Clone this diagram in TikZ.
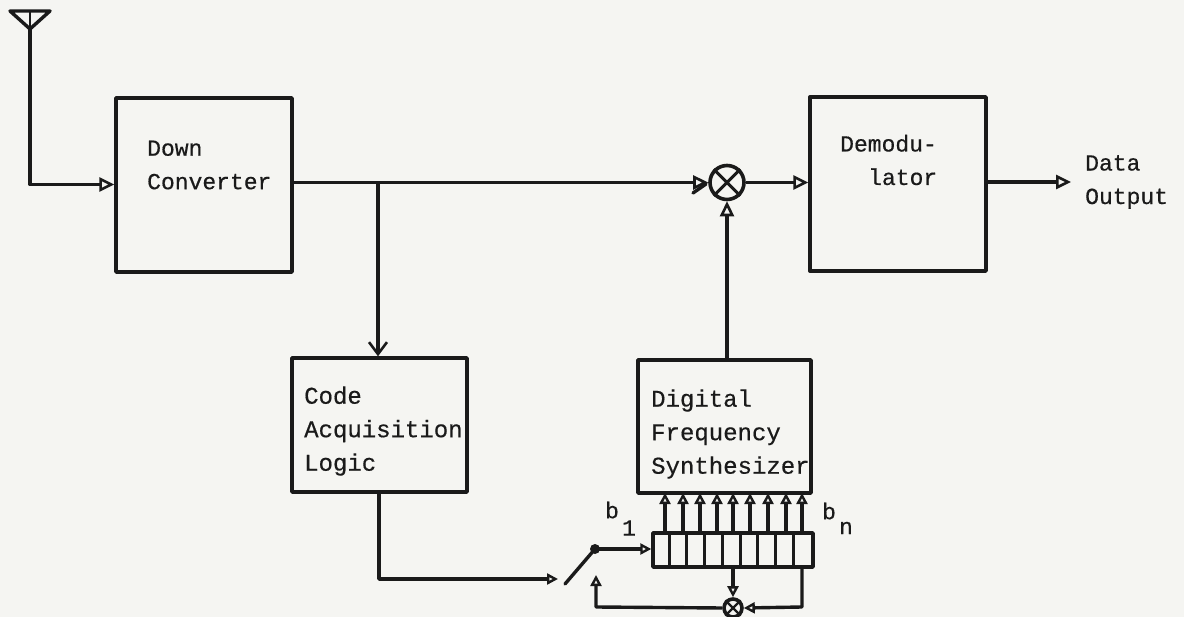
\documentclass[tikz,border=0pt]{standalone}
\usepackage{fontspec}
\setmainfont{Liberation Mono}[FakeBold=0.5]
\usetikzlibrary{arrows.meta}
\definecolor{ink}{HTML}{1A1A1A}
\definecolor{paper}{HTML}{F5F5F2}
\tikzset{
  x=1pt,y=-1pt,
  every path/.style={line join=round},
  wire/.style={draw=ink,line width=3.4pt},
  flow/.style={wire,-{Triangle[open,length=15pt,width=14pt,line width=2.6pt]}},
  small/.style={wire,-{Triangle[open,length=11pt,width=11pt,line width=2.4pt]}},
  blockbox/.style={draw=ink,line width=3.4pt,fill=none,inner sep=0pt},
  lbl/.style={inner sep=0pt,text=ink,font=\fontsize{23}{33.5}\selectfont,align=left,anchor=west},
  lblwide/.style={lbl,font=\fontsize{24}{33.5}\selectfont},
  sub/.style={inner sep=0pt,text=ink,font=\fontsize{23}{24}\selectfont},
  mix/.style={circle,draw=ink,line width=3.6pt,inner sep=0pt},
}
\begin{document}
\begin{tikzpicture}
\useasboundingbox[fill=paper] (0,0) rectangle (1184,617);
% blocks
\node[blockbox,minimum width=176pt,minimum height=174pt] (down) at (204,185) {};
\node[blockbox,minimum width=176pt,minimum height=174pt] (demod) at (898,184) {};
\node[blockbox,minimum width=175pt,minimum height=134pt] (code) at (379.5,425) {};
\node[blockbox,minimum width=173pt,minimum height=133pt] (dfs) at (724.5,426.5) {};
\node[blockbox,minimum width=160pt,minimum height=34pt] (reg) at (733,550) {};
% labels
\node[lbl] (downt) at (147,165) {Down\\Converter};
\node[lbl] (demodt) at (840,160) {Demodu-\\\hspace*{28pt}lator};
\node[lblwide] (codet) at (304,431) {Code\\Acquisition\\Logic};
\node[lblwide] (dfst) at (651,434) {Digital\\Frequency\\Synthesizer};
\node[lbl] (datat) at (1085,182) {Data\\Output};
\node[sub] (b1) at (612,510) {b};
\node[sub] (b1s) at (629,528) {1};
\node[sub] (bn) at (829,511) {b};
\node[sub] (bns) at (846,528) {n};
% mixers
\node[mix,minimum size=34pt] (mx) at (727,182.5) {};
\draw[ink,line width=3pt] (mx.north west) -- (mx.south east) (mx.north east) -- (mx.south west);
\node[mix,minimum size=18pt] (xr) at (733,608) {};
\draw[ink,line width=2.4pt] (xr.north west) -- (xr.south east) (xr.north east) -- (xr.south west);
% antenna
\coordinate (anta) at (10,11);
\coordinate (antb) at (50,11);
\coordinate (antc) at (30,29);
\coordinate (antt) at (30,11);
\draw[wire] (anta) -- (antb) -- (antc) -- cycle;
\draw[ink,line width=2pt] (antt) -- (antc);
\coordinate (antk) at (30,184.5);
\draw[flow] (antc) -- (antk) -- (down.west |- antk);
% main path
\coordinate (downo) at (down.east |- mx.west);
\draw[flow] (downo) -- (mx.west);
\coordinate (barba) at (693,193);
\coordinate (barbb) at (706,184);
\draw[wire,line cap=round] (barba) -- (barbb);
\draw[flow] (mx.east) -- (demod.west |- mx.east);
\coordinate (tap) at (378,183);
\draw[wire,-{Straight Barb[length=12pt,width=18pt,line width=2.6pt]}] (tap) -- (tap |- code.north);
\draw[flow] (mx.south |- dfs.north) -- (mx.south);
\coordinate (datae) at (1071,182);
\draw[flow] (demod.east |- datae) -- (datae);
% register cells
\foreach \i in {1,...,8}{
  \draw[ink,line width=3pt] (reg.south west) ++({\i*17.78},0) -- ++(0,-34);
}
% register to synthesizer
\foreach \xx in {665,683,700,717,733,750,768,786,802}{
  \coordinate (r\xx) at (\xx,533);
  \draw[small] (r\xx) -- (\xx,493);
}
% switch
\coordinate (inc) at (379,579);
\coordinate (swa) at (565,584);
\coordinate (swb) at (595,549);
\draw[small] (379,492) -- (inc) -- (558,579);
\draw[wire,line cap=round] (swa) -- (swb);
\fill[ink] (swb) circle (5pt);
\draw[small] (swb) -- (reg.west |- swb);
% feedback
\draw[small] (733,567) -- (xr.north);
\coordinate (rbr) at (802,567);
\coordinate (rbk) at (802,607);
\draw[small] (rbr) -- (rbk) -- (xr.east);
\coordinate (fbl) at (596,607);
\coordinate (fbe) at (596,575);
\draw[small] (xr.west) -- (fbl) -- (fbe);
\end{tikzpicture}
\end{document}
